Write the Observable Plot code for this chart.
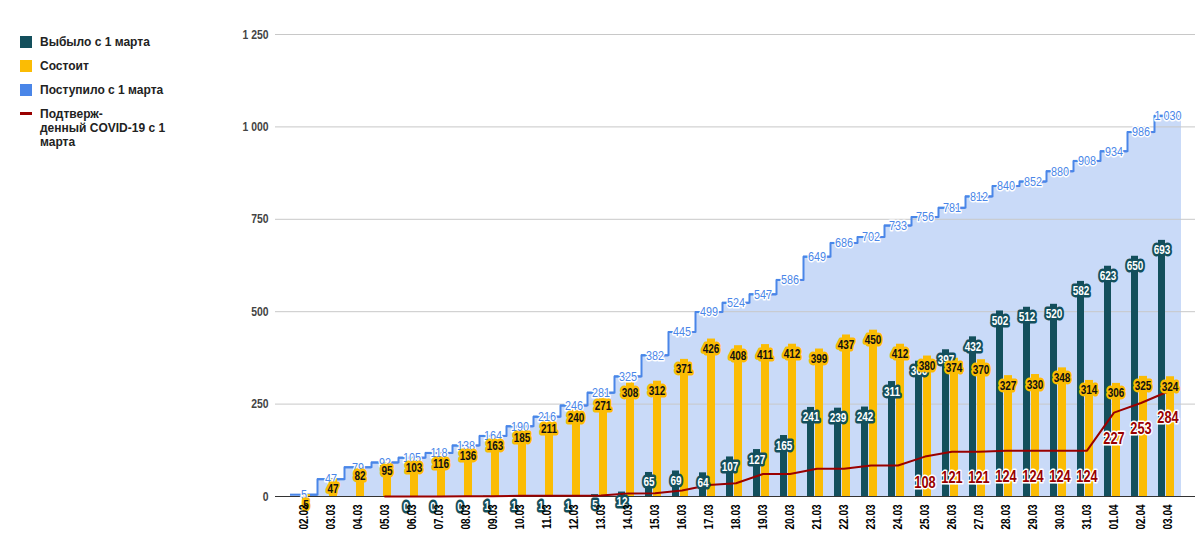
<!DOCTYPE html>
<html><head><meta charset="utf-8">
<script src="https://cdn.jsdelivr.net/npm/d3@7"></script>
<script src="https://cdn.jsdelivr.net/npm/@observablehq/plot@0.6"></script>
<style>
body{margin:0;background:#fff;}
#wrap{position:relative;width:1195px;height:535px;font-family:"Liberation Sans",Arial,sans-serif;}
#legend{position:absolute;left:0;top:0;font-family:"Liberation Sans",Arial,sans-serif;font-size:12px;font-weight:bold;color:#222;}
.item{position:absolute;left:40px;white-space:nowrap;line-height:14px;}
.sw{position:absolute;left:20px;width:12px;height:12px;}
#chart svg{display:block;}
</style></head><body>
<div id="wrap"><div id="chart"></div><div id="legend"></div></div>
<script>
const dates = ["02.03","03.03","04.03","05.03","06.03","07.03","08.03","09.03","10.03","11.03","12.03","13.03","14.03","15.03","16.03","17.03","18.03","19.03","20.03","21.03","22.03","23.03","24.03","25.03","26.03","27.03","28.03","29.03","30.03","31.03","01.04","02.04","03.04"];
const admitted = [5,47,79,92,105,118,138,164,190,216,246,281,325,382,445,499,524,547,586,649,686,702,733,756,781,812,840,852,880,908,934,986,1030];
const present = [5,47,82,95,103,116,136,163,185,211,240,271,308,312,371,426,408,411,412,399,437,450,412,380,374,370,327,330,348,314,306,325,324];
const discharged = [null,null,null,null,0,0,0,1,1,1,1,5,12,65,69,64,107,127,165,241,239,242,311,366,397,432,502,512,520,582,623,650,693];
const confirmed = [null,null,null,0,0,0,1,1,2,2,2,3,8,9,16,31,36,61,61,75,75,84,84,108,121,121,124,124,124,124,227,253,284];
const seriesNames = ["Выбыло с 1 марта","Состоит","Поступило с 1 марта","Подтверж-\nденный COVID-19 с 1\nмарта"];
const seriesColors = ["#134f5c","#fbbc04","#4a86e8","#990000"];
const yTicks = [0,250,500,750,1000,1250];

const fmt = d3.formatLocale({decimal:",", thousands:"\u00a0", grouping:[3], currency:["",""]}).format(",d");
const data = dates.map((d,i)=>({date:d, admitted:admitted[i], present:present[i], discharged:discharged[i], confirmed:confirmed[i]}));
const disc = data.filter(d=>d.discharged!=null);
const conf = data.filter(d=>d.confirmed!=null);
const font = '"Liberation Sans",Arial,sans-serif';

const chart = Plot.plot({
  width:1195, height:535,
  marginLeft:275, marginRight:0, marginTop:34, marginBottom:39,
  style:{fontFamily:font, background:"transparent"},
  x:{type:"band", domain:dates, padding:0},
  y:{domain:[0,1250]},
  marks:[
    Plot.barY(data,{x:"date", y:"admitted", fill:"#c9daf8"}),
    Plot.ruleY(yTicks.slice(1),{stroke:"#c8c8c8"}),
    Plot.tickY(data,{x:"date", y:"admitted", stroke:seriesColors[2], strokeWidth:2}),
    Plot.line(data,{x:"date", y:"admitted", curve:"step", stroke:seriesColors[2], strokeWidth:2}),
    Plot.barY(disc,{x:"date", y:"discharged", fill:seriesColors[0], insetLeft:4, insetRight:16}),
    Plot.barY(data,{x:"date", y:"present", fill:seriesColors[1], insetLeft:12, insetRight:7}),
    Plot.ruleY([0],{stroke:"#333"}),
    Plot.line(conf,{x:"date", y:"confirmed", stroke:seriesColors[3], strokeWidth:2}),
    Plot.text(data,{x:"date", y:"admitted", text:d=>fmt(d.admitted), fill:seriesColors[2], stroke:"white", strokeWidth:3, paintOrder:"stroke", strokeLinejoin:"round", fontSize:13.5}),
    Plot.text(disc,{x:"date", y:"discharged", text:d=>fmt(d.discharged), dx:-6, dy:10, fill:"white", stroke:seriesColors[0], strokeWidth:5, paintOrder:"stroke", strokeLinejoin:"round", fontSize:12.5, fontWeight:"bold"}),
    Plot.text(data,{x:"date", y:"present", text:d=>fmt(d.present), dx:2, dy:10, fill:"#111", stroke:seriesColors[1], strokeWidth:5, paintOrder:"stroke", strokeLinejoin:"round", fontSize:12.5, fontWeight:"bold"}),
    Plot.text(conf.filter(d=>d.confirmed>=100),{x:"date", y:"confirmed", text:d=>fmt(d.confirmed), dy:26, fill:seriesColors[3], stroke:"white", strokeWidth:3, paintOrder:"stroke", strokeLinejoin:"round", fontSize:16, fontWeight:"bold"}),
    Plot.axisX({tickRotate:-90, tickSize:0, tickPadding:8, fontSize:12.5, fontWeight:"bold", fill:"#000", label:null}),
    Plot.axisY({ticks:yTicks, tickFormat:fmt, tickSize:0, tickPadding:7, fontSize:13, fontWeight:"bold", fill:"#444", label:null})
  ]
});
document.getElementById("chart").appendChild(chart);

// condense all chart text horizontally (narrow typeface look)
chart.querySelectorAll("text").forEach(t=>{
  const tr = t.getAttribute("transform");
  if (tr) t.setAttribute("transform", tr + " scale(0.8,1)");
  else {
    const x = +(t.getAttribute("x")||0), y = +(t.getAttribute("y")||0);
    t.removeAttribute("x"); t.removeAttribute("y");
    t.setAttribute("transform", `translate(${x},${y}) scale(0.8,1)`);
  }
});

const legend = document.getElementById("legend");
const tops = [36,60,84,108];
seriesNames.forEach((name,i)=>{
  const sw = document.createElement("div");
  sw.className = "sw";
  sw.style.background = seriesColors[i];
  if(i===3){ sw.style.top = (tops[i]+4)+"px"; sw.style.height="3px"; }
  else sw.style.top = tops[i]+"px";
  legend.appendChild(sw);
  const t = document.createElement("div");
  t.className = "item";
  t.style.top = (tops[i]-1)+"px";
  t.innerHTML = name.split("\n").join("<br>");
  legend.appendChild(t);
});
</script>
</body></html>
